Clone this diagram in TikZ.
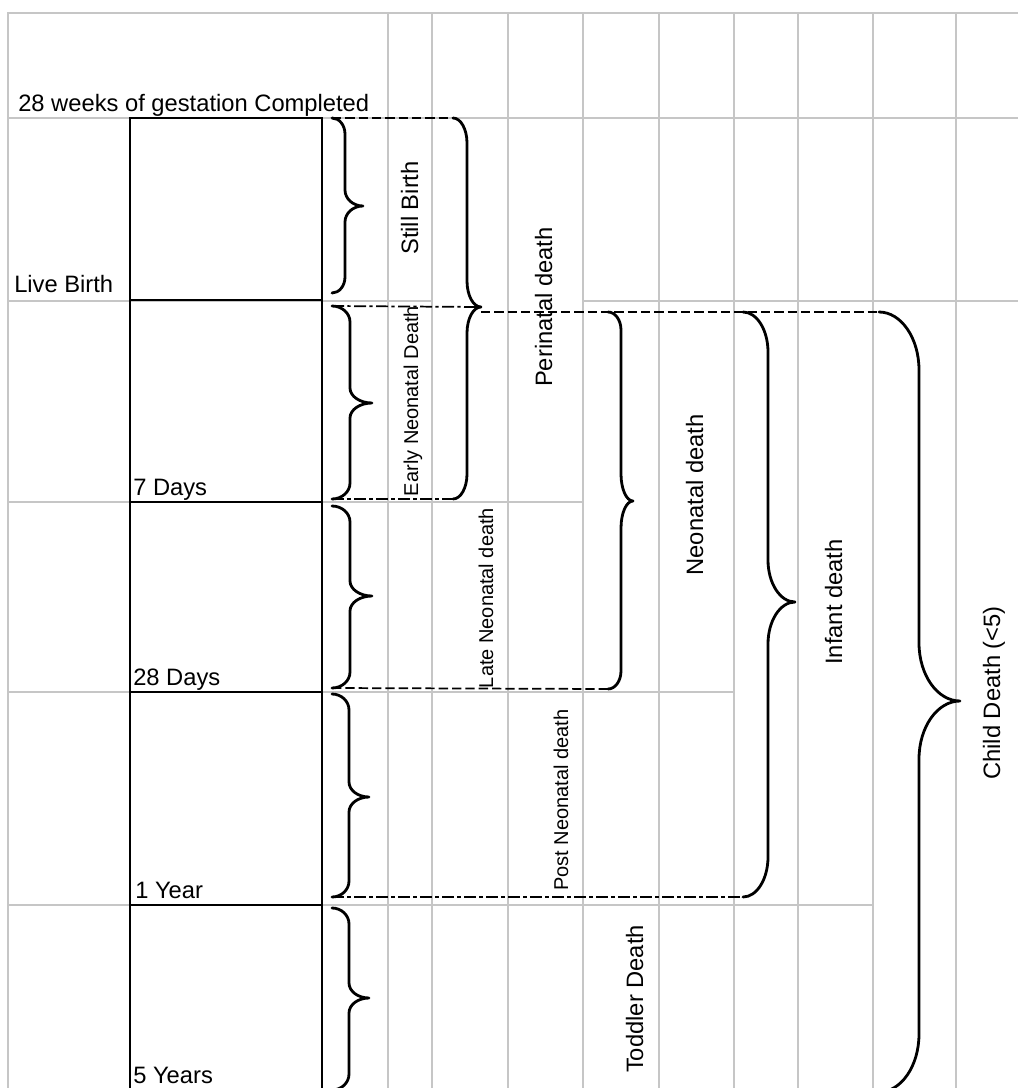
\documentclass[tikz,border=0pt]{standalone}
\usepackage{fontspec}
\setmainfont{Liberation Sans}
\definecolor{gridgray}{RGB}{198,198,198}
\newcommand{\bigfont}{\fontsize{17.8}{20}\selectfont}
\newcommand{\smallfont}{\fontsize{15}{17}\selectfont}
\newcommand{\drawbrace}[9]{%
 \coordinate (#9-top) at (#1,#4);
 \coordinate (#9-tip) at (#3,#5);
 \coordinate (#9-bot) at (#1,#6);
 \draw[bracestroke] (#9-top) .. controls ({#1+0.552*(#2-#1)},#4) and (#2,{#4+0.448*#7}) .. (#2,{#4+#7})
 -- (#2,{#5-#8}) .. controls (#2,{#5-0.448*#8}) and ({#3-0.552*(#3-#2)},#5) .. (#9-tip)
 .. controls ({#3-0.552*(#3-#2)},#5) and (#2,{#5+0.448*#8}) .. (#2,{#5+#8})
 -- (#2,{#6-#7}) .. controls (#2,{#6-0.448*#7}) and ({#1+0.552*(#2-#1)},#6) .. (#9-bot);
}
\tikzset{
 gridline/.style={draw=gridgray, line width=1.1pt},
 boxline/.style={draw=black, line width=1.2pt},
 bracestroke/.style={draw=black, line width=2.1pt, line join=round, line cap=round},
 dashconn/.style={draw=black, line width=1.3pt, dash pattern=on 7pt off 3pt},
 dashdotconn/.style={draw=black, line width=1.3pt, dash pattern=on 9pt off 2.5pt on 2.5pt off 2.5pt},
 hlbl/.style={inner sep=0pt, anchor=base west, font=\bigfont},
 vlbl/.style={inner sep=0pt, rotate=90, anchor=base, font=\bigfont},
 vlblsmall/.style={inner sep=0pt, rotate=90, anchor=base, font=\smallfont},
}
\begin{document}
\begin{tikzpicture}[x=0.75pt,y=-0.75pt]
\fill[white] (0,0) rectangle (1018,1088);
\useasboundingbox (0,0) rectangle (1018,1088);
% ---- spreadsheet grid ----
\draw[gridline] (8,1088) -- (8,13) -- (1018,13);
\foreach \gx in {388,432,508,583,659,734,798,873,956}
  \draw[gridline] (\gx,13) -- (\gx,1088);
\draw[gridline] (8,118) -- (1018,118);
\draw[gridline] (8,301) -- (432,301);
\draw[gridline] (583,301) -- (1018,301);
\draw[gridline] (8,502) -- (583,502);
\draw[gridline] (8,692) -- (734,692);
\draw[gridline] (8,905) -- (873,905);
% ---- time box ----
\draw[boxline] (130,1088) -- (130,118) -- (322,118) -- (322,1088);
\draw[draw=black, line width=2.2pt] (130,300) -- (322,300);
\draw[boxline] (130,502) -- (322,502);
\draw[boxline] (130,692) -- (322,692);
\draw[boxline] (130,905) -- (322,905);
% ---- small braces ----
\drawbrace{332}{345}{363}{118}{206}{293}{16}{16}{B1}
\drawbrace{332}{350}{372}{306}{403}{499}{16}{15}{B2}
\drawbrace{332}{350}{372}{506}{596}{688}{16}{15}{B3}
\drawbrace{332}{349}{369}{694}{797}{897}{16}{15}{B4}
\drawbrace{332}{349}{369}{908}{998}{1090}{16}{15}{B5}
% ---- large braces ----
\drawbrace{453}{467}{481}{118}{307}{499}{25}{26}{P}
\drawbrace{608}{621}{633}{312}{501}{689}{18}{27}{N}
\drawbrace{743}{768}{795}{312}{602}{897}{40}{42}{I}
\drawbrace{879}{919}{960}{312}{701}{1092}{58}{58}{C}
% ---- connectors ----
\draw[dashconn] (B1-top) -- (P-top);
\draw[dashdotconn] (B2-top) -- (P-tip);
\draw[dashconn] (P-tip |- C-top) -- (C-top);
\draw[dashdotconn] (B2-bot) -- (P-bot);
\draw[dashconn] (B3-bot) -- (N-bot);
\draw[dashdotconn] (B4-bot) -- (I-bot);
% ---- horizontal labels ----
\node[hlbl] (gest) at (18,111) {28 weeks of gestation Completed};
\node[hlbl] (live) at (14,292) {Live Birth};
\node[hlbl] (d7) at (133,495) {7 Days};
\node[hlbl] (d28) at (133,685) {28 Days};
\node[hlbl] (y1) at (135,898) {1 Year};
\node[hlbl] (y5) at (133,1083) {5 Years};
% ---- vertical labels ----
\node[vlbl] (still) at (418,208) {Still Birth};
\node[vlblsmall] (early) at (418,401) {Early Neonatal Death};
\node[vlbl] (peri) at (552,307) {Perinatal death};
\node[vlblsmall] (late) at (493,598) {Late Neonatal death};
\node[vlblsmall] (post) at (568,800) {Post Neonatal death};
\node[vlbl] (todd) at (643,999) {Toddler Death};
\node[vlbl] (neo) at (703,495) {Neonatal death};
\node[vlbl] (inf) at (842,602) {Infant death};
\node[vlbl] (child) at (1000,693) {Child Death (<5)};
\end{tikzpicture}
\end{document}
